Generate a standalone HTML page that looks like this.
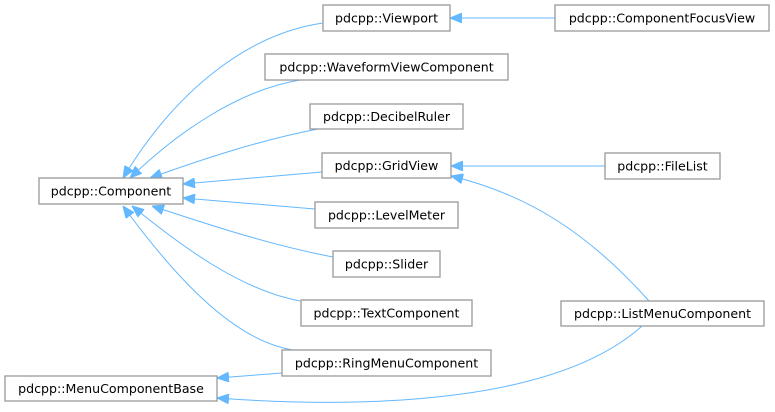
<!DOCTYPE html>
<html><head><meta charset="utf-8"><style>
html,body{margin:0;padding:0;background:#fff;}
svg{display:block}
text{font-family:"DejaVu Sans","Liberation Sans",sans-serif;font-size:12.6px;fill:#000;}
rect{fill:#fff;stroke:#999;stroke-width:1.3}
path.e{fill:none;stroke:#63b8ff;stroke-width:1}
</style></head><body>
<svg width="775" height="412" viewBox="0 0 775 412">
<defs><marker id="a" markerWidth="12" markerHeight="10" refX="12" refY="5" orient="auto-start-reverse" markerUnits="userSpaceOnUse"><path d="M0,0 L12,5 L0,10 Z" fill="#63b8ff" stroke="#63b8ff"/></marker></defs>
<path class="e" marker-start="url(#a)" d="M123,178 C170,100 240,35 323,23"/>
<path class="e" marker-start="url(#a)" d="M130,178 C180,130 240,90 300,80"/>
<path class="e" marker-start="url(#a)" d="M150,178 C200,160 260,140 318,129"/>
<path class="e" marker-start="url(#a)" d="M183,184 L322,172"/>
<path class="e" marker-start="url(#a)" d="M183,198 L315,209"/>
<path class="e" marker-start="url(#a)" d="M152,206 C210,225 270,245 333,257"/>
<path class="e" marker-start="url(#a)" d="M132,206 C180,245 240,290 300,301"/>
<path class="e" marker-start="url(#a)" d="M123,206 C170,270 230,340 293,350"/>
<path class="e" marker-start="url(#a)" d="M217,378 L282,373"/>
<path class="e" marker-start="url(#a)" d="M217,398 C380,410 560,400 642,326"/>
<path class="e" marker-start="url(#a)" d="M450,18 L555,18"/>
<path class="e" marker-start="url(#a)" d="M451,166 L605,166"/>
<path class="e" marker-start="url(#a)" d="M451,176 C530,195 590,235 649,301"/>
<rect x="323" y="5" width="127" height="26"/><text x="386.5" y="22.5" text-anchor="middle">pdcpp::Viewport</text>
<rect x="265" y="54" width="243" height="26"/><text x="386.5" y="71.5" text-anchor="middle">pdcpp::WaveformViewComponent</text>
<rect x="310" y="104" width="153" height="25"/><text x="386.5" y="121" text-anchor="middle">pdcpp::DecibelRuler</text>
<rect x="322" y="153" width="129" height="25"/><text x="386.5" y="170" text-anchor="middle">pdcpp::GridView</text>
<rect x="39" y="178" width="144" height="26"/><text x="111" y="195.5" text-anchor="middle">pdcpp::Component</text>
<rect x="315" y="202" width="143" height="26"/><text x="386.5" y="219.5" text-anchor="middle">pdcpp::LevelMeter</text>
<rect x="333" y="251" width="107" height="26"/><text x="386.5" y="268.5" text-anchor="middle">pdcpp::Slider</text>
<rect x="301" y="300" width="171" height="26"/><text x="386.5" y="317.5" text-anchor="middle">pdcpp::TextComponent</text>
<rect x="282" y="350" width="209" height="26"/><text x="386.5" y="367.5" text-anchor="middle">pdcpp::RingMenuComponent</text>
<rect x="5" y="376" width="212" height="25"/><text x="111" y="393" text-anchor="middle">pdcpp::MenuComponentBase</text>
<rect x="555" y="5" width="214" height="26"/><text x="662" y="22.5" text-anchor="middle">pdcpp::ComponentFocusView</text>
<rect x="605" y="153" width="115" height="26"/><text x="662.5" y="170.5" text-anchor="middle">pdcpp::FileList</text>
<rect x="561" y="301" width="203" height="25"/><text x="662.5" y="318" text-anchor="middle">pdcpp::ListMenuComponent</text>
</svg>
</body></html>
